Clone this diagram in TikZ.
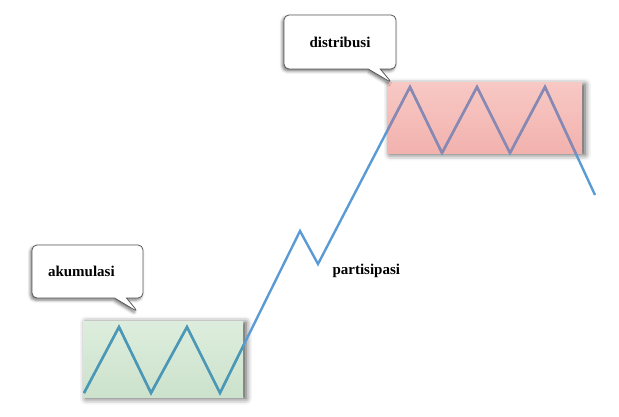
\documentclass[tikz,border=0pt]{standalone}
\usepackage{fontspec}
\setmainfont{Liberation Serif}
\usepackage{tikz}
\usetikzlibrary{shapes.callouts,shadows.blur,positioning}

\definecolor{priceblue}{HTML}{5B9BD5}
\definecolor{accline}{HTML}{4A98B4}
\definecolor{disline}{HTML}{8A87B0}
\definecolor{acctop}{HTML}{DDEDDD}
\definecolor{accbot}{HTML}{CCE2CC}
\definecolor{distop}{HTML}{F8C8C4}
\definecolor{disbot}{HTML}{F2B2AE}

\tikzset{
  zone/.style={rectangle, draw=none, inner sep=0pt,
    blur shadow={shadow xshift=3pt, shadow yshift=-1.5pt, shadow blur radius=6pt, shadow opacity=70}},
  bubble/.style={rectangle callout, rounded corners=5pt, draw=black!65, fill=white, line width=0.8pt,
    callout pointer width=12pt,
    blur shadow={shadow xshift=-1.5pt, shadow yshift=-2pt, shadow blur radius=3pt, shadow opacity=55}},
  tag/.style={font=\fontsize{15}{18}\selectfont\bfseries},
  price/.style={line width=2.4pt, draw=priceblue},
}

\begin{document}
\begin{tikzpicture}[x=1pt,y=1pt]
  \useasboundingbox (0,0) rectangle (619,416);

  % turning points of the price line
  \foreach \n/\x/\y in {g0/84/23, g1/119/89, g2/151/23, g3/187/89, g4/220/23,
      p1/300/185, p2/318/152,
      d1/410/329, d2/442/263, d3/477/329, d4/510/263, d5/545/329, e0/595/221}
    \coordinate (\n) at (\x,\y);
  \def\pricepath{(g0) -- (g1) -- (g2) -- (g3) -- (g4) -- (p1) -- (p2) -- (d1) -- (d2) -- (d3) -- (d4) -- (d5) -- (e0)}

  % zones
  \node[zone, top color=acctop, bottom color=accbot, minimum width=160, minimum height=76] (accBox) at (163,57) {};
  \node[zone, top color=distop, bottom color=disbot, minimum width=195, minimum height=70] (disBox) at (484.5,298) {};

  % price line
  \draw[price] \pricepath;
  \begin{scope}
    \clip (accBox.south west) rectangle (accBox.north east);
    \draw[price, draw=accline] \pricepath;
  \end{scope}
  \begin{scope}
    \clip (disBox.south west) rectangle (disBox.north east);
    \draw[price, draw=disline] \pricepath;
  \end{scope}

  % callouts
  \coordinate (accTip) at (138,104);
  \coordinate (disTip) at (392,333);
  \node[bubble, tag, text width=79, inner xsep=16, align=left, minimum height=53,
    callout absolute pointer={(accTip)}] (accCall) at (87.5,144.5) {akumulasi};
  \node[bubble, tag, minimum width=112, minimum height=54,
    callout absolute pointer={(disTip)}] (disCall) at (340,374) {distribusi};

  \node[tag, anchor=west] (parti) at (329,145) {partisipasi};
\end{tikzpicture}
\end{document}
